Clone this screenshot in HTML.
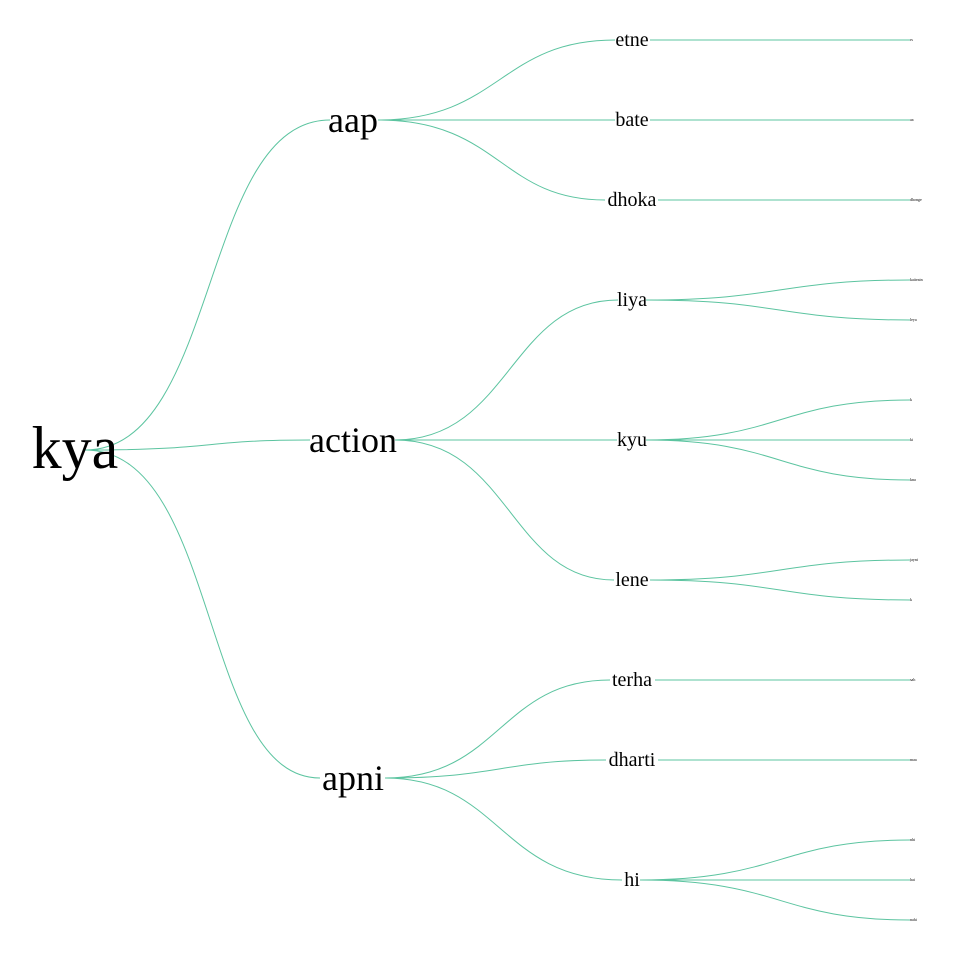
<!DOCTYPE html>
<html><head><meta charset="utf-8"><style>
html,body{margin:0;padding:0;background:#fff}
svg{display:block}
text{font-family:"Liberation Serif",serif;fill:#000}
path{fill:none;stroke:#5cc4a0;stroke-width:1}
</style></head><body>
<svg width="960" height="960" viewBox="0 0 960 960">
<!-- root links -->
<path d="M85,450 C220,450 200,120 330,120"/>
<path d="M85,450 C220,450 200,440 310,440"/>
<path d="M85,450 C220,450 200,778 320,778"/>
<!-- level1 -> level2 -->
<path d="M378,120 C500,120 500,40 615,40"/>
<path d="M378,120 L615,120"/>
<path d="M378,120 C500,120 500,200 605,200"/>
<path d="M395,440 C510,440 510,300 618,300"/>
<path d="M395,440 L617,440"/>
<path d="M395,440 C510,440 510,580 614,580"/>
<path d="M385,778 C500,778 500,680 610,680"/>
<path d="M385,778 C500,778 500,760 606,760"/>
<path d="M385,778 C500,778 500,880 622,880"/>
<!-- level2 -> leaf -->
<path d="M650,40 L910,40"/>
<path d="M650,120 L910,120"/>
<path d="M658,200 L910,200"/>
<path d="M646,300 C780,300 780,280 910,280"/>
<path d="M646,300 C780,300 780,320 910,320"/>
<path d="M646,440 C780,440 780,400 910,400"/>
<path d="M646,440 L910,440"/>
<path d="M646,440 C780,440 780,480 910,480"/>
<path d="M650,580 C780,580 780,560 910,560"/>
<path d="M650,580 C780,580 780,600 910,600"/>
<path d="M655,680 L910,680"/>
<path d="M658,760 L910,760"/>
<path d="M640,880 C780,880 780,840 910,840"/>
<path d="M640,880 L910,880"/>
<path d="M640,880 C780,880 780,920 910,920"/>
<!-- labels -->
<text x="75" y="468" font-size="60" text-anchor="middle">kya</text>
<text x="353" y="132" font-size="36" text-anchor="middle">aap</text>
<text x="353" y="452" font-size="36" text-anchor="middle">action</text>
<text x="353" y="790" font-size="36" text-anchor="middle">apni</text>
<g font-size="20" text-anchor="middle">
<text x="632" y="46">etne</text>
<text x="632" y="126">bate</text>
<text x="632" y="206">dhoka</text>
<text x="632" y="306">liya</text>
<text x="632" y="446">kyu</text>
<text x="632" y="586">lene</text>
<text x="632" y="686">terha</text>
<text x="632" y="766">dharti</text>
<text x="632" y="886">hi</text>
</g>
<g font-size="4" fill="#444">
<text x="910" y="41">rs</text>
<text x="910" y="121">aa</text>
<text x="910" y="201">dhonge</text>
<text x="910" y="281">kaiteain</text>
<text x="910" y="321">leya</text>
<text x="910" y="401">k</text>
<text x="910" y="441">ki</text>
<text x="910" y="481">kna</text>
<text x="910" y="561">jayni</text>
<text x="910" y="601">k</text>
<text x="910" y="681">sah</text>
<text x="910" y="761">maa</text>
<text x="910" y="841">nhi</text>
<text x="910" y="881">hai</text>
<text x="910" y="921">nahi</text>
</g>
</svg>
</body></html>
